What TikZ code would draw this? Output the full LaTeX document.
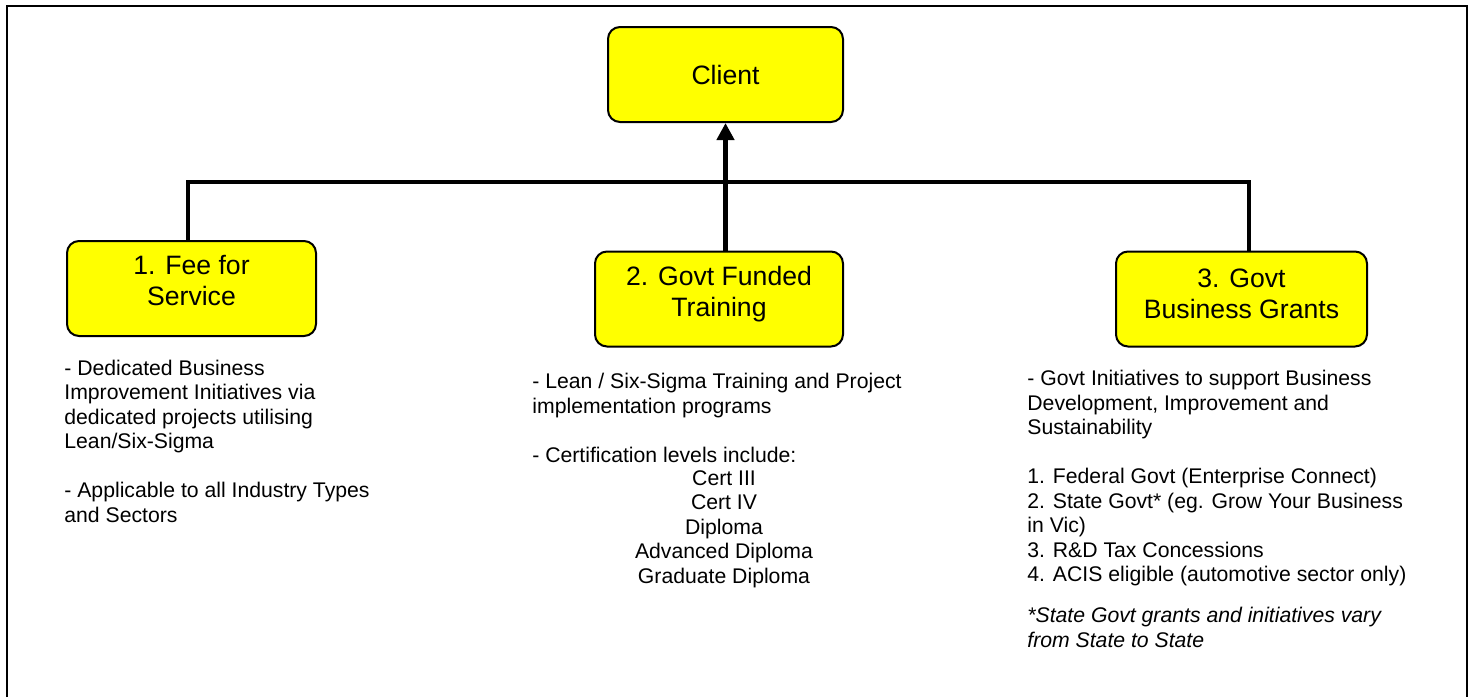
\documentclass[tikz,border=0pt]{standalone}
\usepackage{fontspec}
\setmainfont{Liberation Sans}
\usetikzlibrary{positioning,arrows.meta}
\definecolor{boxyellow}{RGB}{255,255,0}
\tikzset{
  >={Triangle[length=8.5pt,width=8.5pt]},
  block/.style={draw, line width=1pt, fill=boxyellow, rounded corners=6pt,
    align=center, inner sep=0pt, minimum height=47.5pt,
    font=\fontsize{13.3}{15.5}\selectfont},
  notes/.style={align=left, inner sep=0pt, anchor=base west,
    font=\fontsize{10.6}{12.25}\selectfont},
  link/.style={line width=1.6pt}
}

\begin{document}
\begin{tikzpicture}[x=0.5pt,y=-0.5pt]
  \useasboundingbox (0,0) rectangle (1472,697);
  \draw[line width=1pt] (7,697) -- (7,6) -- (1467,6) -- (1467,697);

  \node[block, minimum width=117.5pt] (client) at (725.5,74.5) {Client};
  \node[block, minimum width=124.5pt, text depth=8pt] (fee) at (191.5,288.5) {1. Fee for\\Service};
  \node[block, minimum width=124pt, text depth=8pt] (training) at (719,299) {2. Govt Funded\\Training};
  \node[block, minimum width=125.5pt, text depth=5pt] (grants) at (1241.5,299) {3. Govt\\Business Grants};

  \coordinate (bar) at (725,182);
  \draw[link] ([xshift=-1.75pt]fee.north) |- (bar) -| ([xshift=3.75pt]grants.north);
  \draw[->, line width=2.2pt] (client.south |- training.north) -- (client.south);

  % notes under each box (placed by the baseline of their last line)
  \node[notes] (feetext) at (64,522) {- Dedicated Business\\Improvement Initiatives via\\dedicated projects utilising\\Lean/Six-Sigma\\[12.25pt]- Applicable to all Industry Types\\and Sectors};
  \node[notes] (trainingtext) at (532,462) {- Lean / Six-Sigma Training and Project\\implementation programs\\[12.25pt]- Certification levels include:};
  \node[notes, align=center, anchor=base] (levels) at (724,583) {Cert III\\Cert IV\\Diploma\\Advanced Diploma\\Graduate Diploma};
  \node[notes] (grantstext) at (1027,647) {- Govt Initiatives to support Business\\Development, Improvement and\\Sustainability\\[12.25pt]1. Federal Govt (Enterprise Connect)\\2. State Govt* (eg. Grow Your Business\\in Vic)\\3. R\&D Tax Concessions\\4. ACIS eligible (automotive sector only)\\[8.25pt]\textit{*State Govt grants and initiatives vary}\\\textit{from State to State}};
\end{tikzpicture}
\end{document}
